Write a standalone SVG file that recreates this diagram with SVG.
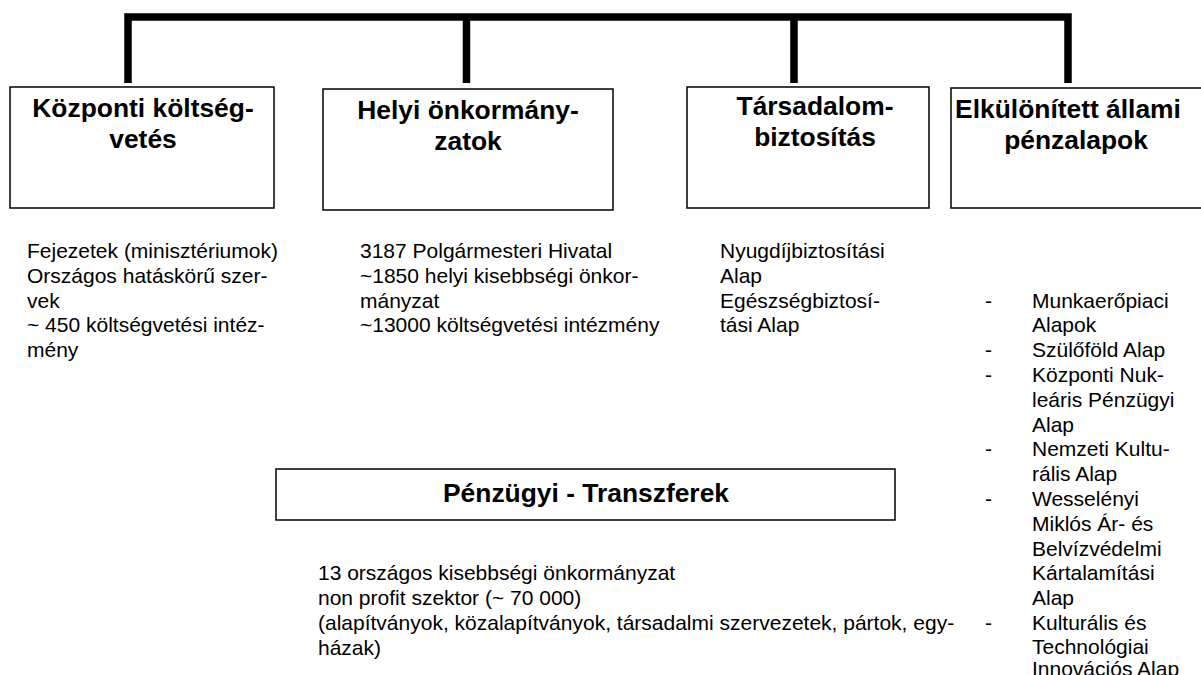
<svg xmlns="http://www.w3.org/2000/svg" width="1201" height="675" viewBox="0 0 1201 675">
<style>
.box{fill:#fff;stroke:#000;stroke-width:1.5}
.title{font-family:"Liberation Sans",Arial,sans-serif;font-weight:bold;font-size:26.4px;fill:#000;text-anchor:middle}
.body{font-family:"Liberation Sans",Arial,sans-serif;font-size:21px;fill:#000}
.bar{fill:none;stroke:#000;stroke-width:7.5;stroke-linecap:butt;stroke-linejoin:miter}
</style>
<rect width="1201" height="675" fill="#fff"/>
<g id="connectors">
<path class="bar" d="M128,83 V17 H1068 V83"/>
<path class="bar" d="M466.5,17 V83"/>
<path class="bar" d="M794,17 V83"/>
</g>
<g id="kozponti">
<rect class="box" x="10" y="87" width="264" height="121"/>
<text class="title" x="143" y="117">Központi költség-</text>
<text class="title" x="143" y="148">vetés</text>
</g>
<g id="helyi">
<rect class="box" x="323" y="89" width="290" height="121"/>
<text class="title" x="468" y="119">Helyi önkormány-</text>
<text class="title" x="468" y="150">zatok</text>
</g>
<g id="tarsadalom">
<rect class="box" x="687" y="87" width="242" height="121"/>
<text class="title" x="815" y="115">Társadalom-</text>
<text class="title" x="815" y="146">biztosítás</text>
</g>
<g id="elkulonitett">
<rect class="box" x="951" y="88" width="270" height="120"/>
<text class="title" x="1068" y="118">Elkülönített állami</text>
<text class="title" x="1076" y="149">pénzalapok</text>
</g>
<g id="penzugyi">
<rect class="box" x="276" y="469" width="619" height="51"/>
<text class="title" x="586" y="502">Pénzügyi - Transzferek</text>
</g>
<g id="texts">
<text class="body" x="27" y="258">Fejezetek (minisztériumok)</text>
<text class="body" x="27" y="282.8">Országos hatáskörű szer-</text>
<text class="body" x="27" y="307.6">vek</text>
<text class="body" x="27" y="332.4">~ 450 költségvetési intéz-</text>
<text class="body" x="27" y="357.2">mény</text>

<text class="body" x="360" y="258">3187 Polgármesteri Hivatal</text>
<text class="body" x="360" y="282.8">~1850 helyi kisebbségi önkor-</text>
<text class="body" x="360" y="307.6">mányzat</text>
<text class="body" x="360" y="332.4">~13000 költségvetési intézmény</text>

<text class="body" x="720" y="258">Nyugdíjbiztosítási</text>
<text class="body" x="720" y="282.8">Alap</text>
<text class="body" x="720" y="307.6">Egészségbiztosí-</text>
<text class="body" x="720" y="332.4">tási Alap</text>

<text class="body" x="985" y="307.6">-</text>
<text class="body" x="1032" y="307.6">Munkaerőpiaci</text>
<text class="body" x="1032" y="332.4">Alapok</text>
<text class="body" x="985" y="357.2">-</text>
<text class="body" x="1032" y="357.2">Szülőföld Alap</text>
<text class="body" x="985" y="382">-</text>
<text class="body" x="1032" y="382">Központi Nuk-</text>
<text class="body" x="1032" y="406.8">leáris Pénzügyi</text>
<text class="body" x="1032" y="431.6">Alap</text>
<text class="body" x="985" y="456.4">-</text>
<text class="body" x="1032" y="456.4">Nemzeti Kultu-</text>
<text class="body" x="1032" y="481.2">rális Alap</text>
<text class="body" x="985" y="506">-</text>
<text class="body" x="1032" y="506">Wesselényi</text>
<text class="body" x="1032" y="530.8">Miklós Ár- és</text>
<text class="body" x="1032" y="555.6">Belvízvédelmi</text>
<text class="body" x="1032" y="580.4">Kártalamítási</text>
<text class="body" x="1032" y="605.2">Alap</text>
<text class="body" x="985" y="630">-</text>
<text class="body" x="1032" y="630">Kulturális és</text>
<text class="body" x="1032" y="654">Technológiai</text>
<text class="body" x="1032" y="676">Innovációs Alap</text>

<text class="body" x="318" y="580.4">13 országos kisebbségi önkormányzat</text>
<text class="body" x="318" y="605.2">non profit szektor (~ 70 000)</text>
<text class="body" x="318" y="630">(alapítványok, közalapítványok, társadalmi szervezetek, pártok, egy-</text>
<text class="body" x="318" y="654.8">házak)</text>
</g>
</svg>
